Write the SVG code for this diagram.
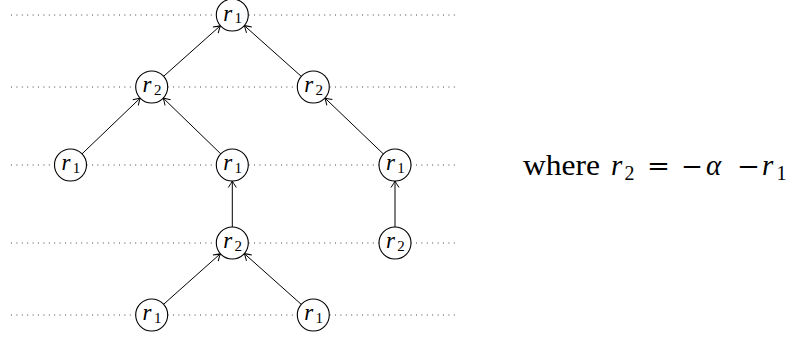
<svg xmlns="http://www.w3.org/2000/svg" width="791" height="338" viewBox="0 0 791 338">
<style>
.dot{stroke:#444;stroke-width:1;stroke-dasharray:1 4.4;fill:none}
.nd{fill:#fff;stroke:#000;stroke-width:1.1}
.lb{font-family:"Liberation Serif","DejaVu Serif",serif;font-size:23px;font-style:italic;fill:#000}
.sb{font-family:"Liberation Serif","DejaVu Serif",serif;font-size:15px;font-style:normal;fill:#000}
.ed{stroke:#000;stroke-width:1;fill:none;marker-end:url(#ah)}
.tx{font-family:"Liberation Serif","DejaVu Serif",serif;font-size:29px;fill:#000}
.it{font-style:italic}
.ts{font-size:20px}
.op{font-family:"DejaVu Serif","Liberation Serif",serif;font-size:26px}
</style>
<defs>
<marker id="ah" markerUnits="userSpaceOnUse" markerWidth="12" markerHeight="12" viewBox="-8 -6 10 12" refX="0" refY="0" orient="auto">
<path d="M-6.5,-4 Q-2,-1 0,0 Q-2,1 -6.5,4" fill="none" stroke="#000" stroke-width="1"/>
</marker>
</defs>
<g id="guides">
<line class="dot" x1="11" y1="15" x2="455" y2="15"/>
<line class="dot" x1="11" y1="87" x2="455" y2="87"/>
<line class="dot" x1="11" y1="165" x2="455" y2="165"/>
<line class="dot" x1="11" y1="243" x2="455" y2="243"/>
<line class="dot" x1="11" y1="315" x2="455" y2="315"/>
</g>
<g id="edges">
<line class="ed" x1="163.6" y1="76.3" x2="220.4" y2="25.7"/>
<line class="ed" x1="301.3" y1="76.4" x2="244.3" y2="25.6"/>
<line class="ed" x1="82.0" y1="153.9" x2="140.2" y2="98.1"/>
<line class="ed" x1="220.8" y1="153.9" x2="163.2" y2="98.1"/>
<line class="ed" x1="383.4" y1="154.0" x2="324.9" y2="98.0"/>
<line class="ed" x1="232.3" y1="227" x2="232.3" y2="181"/>
<line class="ed" x1="395" y1="227" x2="395" y2="181"/>
<line class="ed" x1="163.6" y1="304.3" x2="220.4" y2="253.7"/>
<line class="ed" x1="301.3" y1="304.4" x2="244.3" y2="253.6"/>
</g>
<g id="n0"><circle class="nd" cx="232.3" cy="15" r="16"/><text class="lb" x="223.2" y="20.5">r</text><text class="sb" x="234.5" y="23">1</text></g>
<g id="n1"><circle class="nd" cx="151.7" cy="87" r="16"/><text class="lb" x="142.6" y="91.5">r</text><text class="sb" x="153.9" y="94.5">2</text></g>
<g id="n2"><circle class="nd" cx="313.3" cy="87" r="16"/><text class="lb" x="304.2" y="91.5">r</text><text class="sb" x="315.5" y="94.5">2</text></g>
<g id="n3"><circle class="nd" cx="70.5" cy="165" r="16"/><text class="lb" x="61.4" y="169.5">r</text><text class="sb" x="72.7" y="172.5">1</text></g>
<g id="n4"><circle class="nd" cx="232.3" cy="165" r="16"/><text class="lb" x="223.2" y="169.5">r</text><text class="sb" x="234.5" y="172.5">1</text></g>
<g id="n5"><circle class="nd" cx="395" cy="165" r="16"/><text class="lb" x="385.9" y="169.5">r</text><text class="sb" x="397.2" y="172.5">1</text></g>
<g id="n6"><circle class="nd" cx="232.3" cy="243" r="16"/><text class="lb" x="223.2" y="247.5">r</text><text class="sb" x="234.5" y="250.5">2</text></g>
<g id="n7"><circle class="nd" cx="395" cy="243" r="16"/><text class="lb" x="385.9" y="247.5">r</text><text class="sb" x="397.2" y="250.5">2</text></g>
<g id="n8"><circle class="nd" cx="151.7" cy="315" r="16"/><text class="lb" x="142.6" y="319.5">r</text><text class="sb" x="153.9" y="322.5">1</text></g>
<g id="n9"><circle class="nd" cx="313.3" cy="315" r="16"/><text class="lb" x="304.2" y="319.5">r</text><text class="sb" x="315.5" y="322.5">1</text></g>
<g id="note">
<text class="tx" x="523" y="175" textLength="77" lengthAdjust="spacingAndGlyphs">where</text>
<text class="tx it" x="611" y="175">r</text>
<text class="tx ts" x="624.5" y="180">2</text>
<text class="tx op" x="647" y="175" textLength="23" lengthAdjust="spacingAndGlyphs">=</text>
<text class="tx op" x="681" y="175" textLength="22" lengthAdjust="spacingAndGlyphs">−</text>
<text class="tx it" x="706" y="175">α</text>
<text class="tx op" x="737" y="175" textLength="23" lengthAdjust="spacingAndGlyphs">−</text>
<text class="tx it" x="762" y="175">r</text>
<text class="tx ts" x="776.5" y="180">1</text>
</g>
</svg>
